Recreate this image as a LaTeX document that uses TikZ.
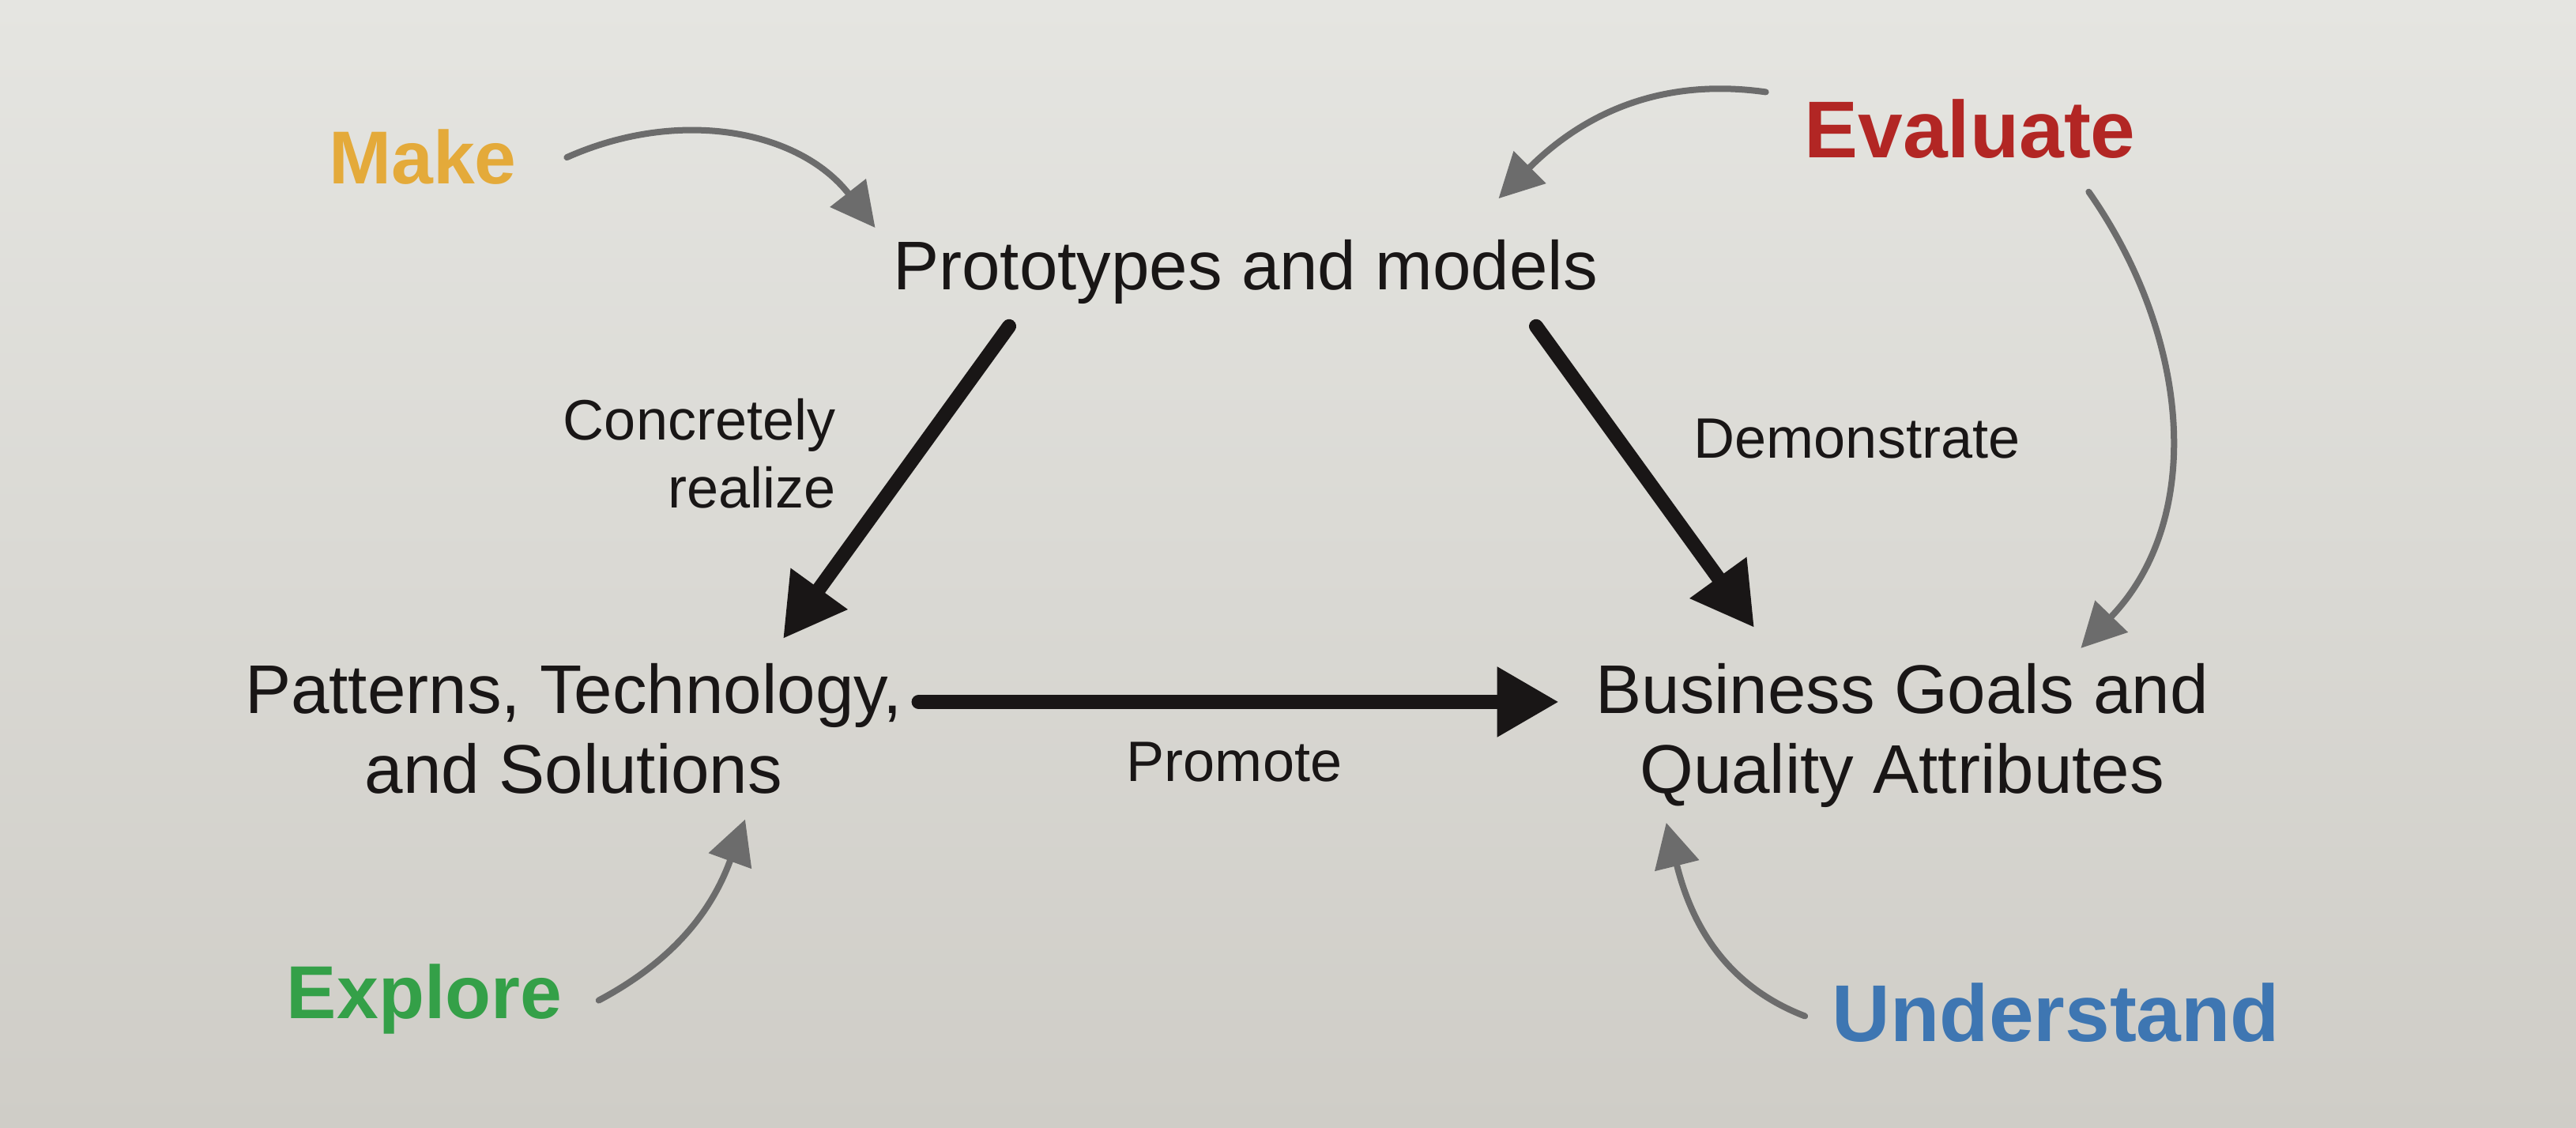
\documentclass[tikz,border=0pt]{standalone}
\usepackage{fontspec}
\setmainfont{Liberation Sans}
\usepackage{xcolor}
\usetikzlibrary{arrows.meta}
\usetikzlibrary{positioning}

\definecolor{paperlight}{RGB}{229,229,225}
\definecolor{paperdark}{RGB}{207,205,199}
\definecolor{ink}{RGB}{25,22,22}
\definecolor{hint}{RGB}{108,108,108}
\definecolor{makecol}{RGB}{228,170,58}
\definecolor{evalcol}{RGB}{178,38,36}
\definecolor{explcol}{RGB}{52,160,72}
\definecolor{undcol}{RGB}{62,118,178}

\begin{document}
\begin{tikzpicture}[
  every node/.style={inner sep=0pt,text=ink},
  topic/.style={anchor=base,align=center,font=\fontsize{24.8}{28.5}\selectfont},
  verb/.style={anchor=base,align=center,font=\fontsize{20.5}{24.5}\selectfont},
  act/.style={anchor=base,font=\bfseries\fontsize{#1}{#1}\selectfont},
  bigarrow/.style={ink,line width=0.18cm,line cap=round,-{Triangle[length=0.78cm,width=0.84cm]}},
  loop/.style={hint,line width=0.08cm,line cap=round,-{Triangle[length=0.56cm,width=0.56cm]}}
]
\useasboundingbox (0,0) rectangle (32.6,-14.27);
\shade[top color=paperlight,bottom color=paperdark] (0,0) rectangle (32.6,-14.27);

\node[topic] (proto) at (15.76,-3.67) {Prototypes and models};
\node[topic] (patt) at (7.26,-10.03) {Patterns, Technology,\\and Solutions};
\node[topic] (bus) at (24.07,-10.03) {Business Goals and\\Quality Attributes};

\node[verb,anchor=base east,align=right] (concr) at (10.58,-6.43) {Concretely\\realize};
\node[verb] (demo) at (23.50,-5.80) {Demonstrate};
\node[verb] (prom) at (15.62,-9.88) {Promote};

\node[act=27,text=makecol] (make) at (5.35,-2.33) {Make};
\node[act=29,text=evalcol] (eval) at (24.93,-2.00) {Evaluate};
\node[act=27,text=explcol] (expl) at (5.37,-12.88) {Explore};
\node[act=29,text=undcol] (und) at (26.02,-13.17) {Understand};

\draw[bigarrow] ([shift={(-2.99,-0.27)}]proto.south) -- ([shift={(2.65,0.31)}]patt.north);
\draw[bigarrow] ([shift={(3.68,-0.27)}]proto.south) -- ([shift={(-1.87,0.45)}]bus.north);
\draw[bigarrow] ([shift={(0.2,-0.49)}]patt.north east) -- ([shift={(-0.46,-0.49)}]bus.north west);

\draw[loop] ([xshift=0.63cm]make.east) to[out=24,in=128] ([shift={(-0.22,0.15)}]proto.north west);
\draw[loop] ([shift={(-0.48,0.09)}]eval.north west) to[out=172,in=45] ([shift={(-1.26,0.52)}]proto.north east);
\draw[loop] ([shift={(-0.60,-0.41)}]eval.south east) to[out=-55,in=46] ([shift={(-1.62,0.19)}]bus.north east);
\draw[loop] ([shift={(0.46,-0.47)}]expl.north east) to[out=28,in=-110] ([shift={(2.17,-0.32)}]patt.south);
\draw[loop] ([shift={(-0.34,-0.43)}]und.north west) to[out=159,in=-76] ([shift={(0.90,-0.19)}]bus.south west);
\end{tikzpicture}
\end{document}
